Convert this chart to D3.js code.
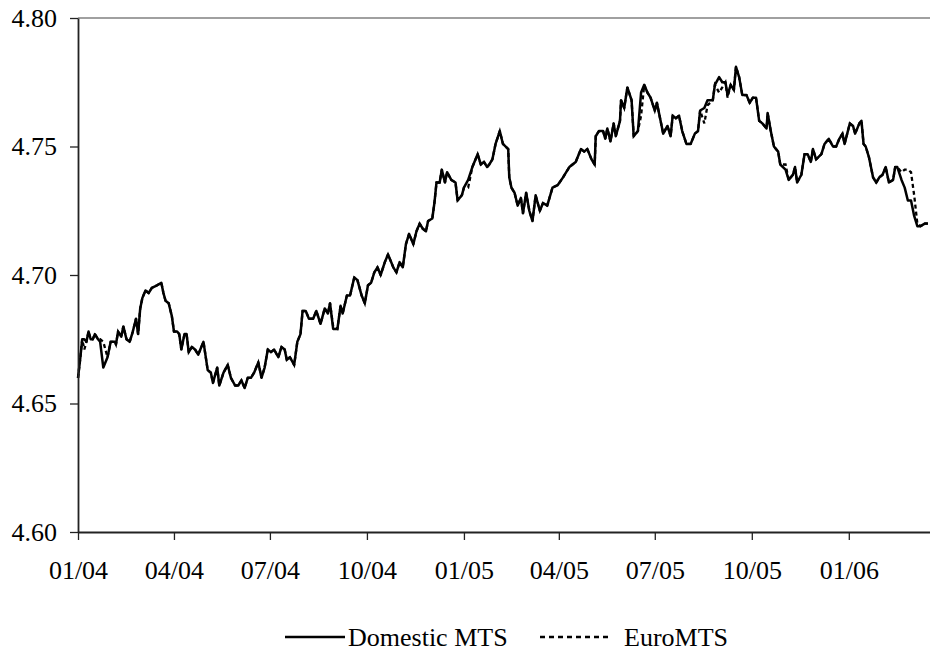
<!DOCTYPE html>
<html>
<head>
<meta charset="utf-8">
<script src="https://cdn.jsdelivr.net/npm/d3@7"></script>
<style>
  html, body { margin: 0; padding: 0; background: #fff; }
  svg { display: block; }
  text { font-family: "Liberation Serif", "Times New Roman", serif; }
</style>
</head>
<body>
<svg id="chart" width="930" height="655"></svg>
<script>
const dates = [
"2004-01-01","2004-01-03","2004-01-05","2004-01-07","2004-01-09","2004-01-11","2004-01-13","2004-01-15","2004-01-17","2004-01-20",
"2004-01-22","2004-01-25","2004-01-29","2004-02-01","2004-02-05","2004-02-06","2004-02-08","2004-02-11","2004-02-13","2004-02-16",
"2004-02-19","2004-02-22","2004-02-25","2004-02-27","2004-02-29","2004-03-02","2004-03-05","2004-03-08","2004-03-11","2004-03-16",
"2004-03-20","2004-03-22","2004-03-24","2004-03-27","2004-03-30","2004-04-01","2004-04-04","2004-04-06","2004-04-08","2004-04-11",
"2004-04-13","2004-04-15","2004-04-18","2004-04-21","2004-04-24","2004-04-26","2004-04-29","2004-05-03","2004-05-06","2004-05-08",
"2004-05-12","2004-05-14","2004-05-18","2004-05-22","2004-05-25","2004-05-29","2004-06-01","2004-06-04","2004-06-07","2004-06-10",
"2004-06-13","2004-06-16","2004-06-20","2004-06-23","2004-06-26","2004-06-29","2004-07-02","2004-07-05","2004-07-09","2004-07-12",
"2004-07-15","2004-07-17","2004-07-20","2004-07-24","2004-07-27","2004-07-30","2004-08-01","2004-08-04","2004-08-07","2004-08-11",
"2004-08-14","2004-08-18","2004-08-22","2004-08-25","2004-08-27","2004-08-30","2004-09-03","2004-09-06","2004-09-08","2004-09-12",
"2004-09-15","2004-09-19","2004-09-22","2004-09-26","2004-09-29","2004-10-02","2004-10-05","2004-10-08","2004-10-11","2004-10-14",
"2004-10-18","2004-10-21","2004-10-23","2004-10-26","2004-10-29","2004-11-01","2004-11-04","2004-11-07","2004-11-10","2004-11-14",
"2004-11-17","2004-11-20","2004-11-23","2004-11-26","2004-11-28","2004-12-02","2004-12-04","2004-12-06","2004-12-09","2004-12-11",
"2004-12-14","2004-12-16","2004-12-20","2004-12-24","2004-12-26","2004-12-30","2005-01-01","2005-01-05","2005-01-09","2005-01-14",
"2005-01-17","2005-01-20","2005-01-23","2005-01-25","2005-01-28","2005-01-31","2005-02-04","2005-02-07","2005-02-12","2005-02-13",
"2005-02-15","2005-02-18","2005-02-21","2005-02-24","2005-02-26","2005-03-01","2005-03-04","2005-03-07","2005-03-10","2005-03-14",
"2005-03-17","2005-03-21","2005-03-26","2005-03-31","2005-04-05","2005-04-08","2005-04-11","2005-04-14","2005-04-17","2005-04-22",
"2005-04-25","2005-04-28","2005-05-02","2005-05-05","2005-05-06","2005-05-09","2005-05-13","2005-05-15","2005-05-17","2005-05-20",
"2005-05-23","2005-05-25","2005-05-29","2005-05-30","2005-06-02","2005-06-05","2005-06-09","2005-06-11","2005-06-15","2005-06-18",
"2005-06-21","2005-06-24","2005-06-27","2005-07-01","2005-07-03","2005-07-06","2005-07-09","2005-07-13","2005-07-16","2005-07-18",
"2005-07-21","2005-07-24","2005-07-27","2005-07-31","2005-08-04","2005-08-08","2005-08-11","2005-08-13","2005-08-17","2005-08-20",
"2005-08-25","2005-08-27","2005-08-31","2005-09-03","2005-09-06","2005-09-08","2005-09-11","2005-09-14","2005-09-16","2005-09-19",
"2005-09-22","2005-09-26","2005-09-29","2005-10-02","2005-10-05","2005-10-08","2005-10-11","2005-10-15","2005-10-16","2005-10-19",
"2005-10-22","2005-10-26","2005-10-28","2005-11-02","2005-11-05","2005-11-09","2005-11-11","2005-11-13","2005-11-17","2005-11-20",
"2005-11-23","2005-11-26","2005-11-28","2005-12-01","2005-12-06","2005-12-09","2005-12-13","2005-12-17","2005-12-20","2005-12-23",
"2005-12-26","2005-12-28","2006-01-02","2006-01-05","2006-01-07","2006-01-11","2006-01-13","2006-01-15","2006-01-17","2006-01-20",
"2006-01-24","2006-01-27","2006-01-30","2006-02-02","2006-02-05","2006-02-08","2006-02-12","2006-02-14","2006-02-16","2006-02-20",
"2006-02-23","2006-02-26","2006-03-01","2006-03-04","2006-03-07","2006-03-10","2006-03-14","2006-03-17"
];

const domesticMTS = [
4.660,4.667,4.675,4.675,4.674,4.678,4.675,4.675,4.677,4.675,
4.674,4.664,4.668,4.674,4.674,4.673,4.678,4.676,4.680,4.675,
4.674,4.678,4.683,4.677,4.687,4.691,4.694,4.693,4.695,4.696,
4.697,4.693,4.690,4.689,4.684,4.678,4.678,4.677,4.671,4.677,
4.677,4.670,4.672,4.671,4.669,4.671,4.674,4.663,4.662,4.658,
4.664,4.657,4.662,4.665,4.660,4.657,4.657,4.659,4.656,4.660,
4.660,4.662,4.666,4.660,4.664,4.671,4.670,4.671,4.668,4.672,
4.671,4.667,4.668,4.665,4.674,4.677,4.686,4.686,4.683,4.683,
4.686,4.681,4.687,4.685,4.689,4.679,4.679,4.688,4.685,4.692,
4.692,4.699,4.698,4.692,4.689,4.696,4.697,4.701,4.703,4.700,
4.705,4.708,4.706,4.703,4.701,4.705,4.703,4.712,4.716,4.712,
4.717,4.720,4.718,4.717,4.721,4.722,4.728,4.736,4.736,4.741,
4.736,4.740,4.737,4.736,4.729,4.731,4.734,4.737,4.742,4.747,
4.743,4.744,4.742,4.743,4.745,4.751,4.756,4.751,4.749,4.738,
4.734,4.732,4.727,4.730,4.724,4.732,4.725,4.721,4.731,4.725,
4.728,4.727,4.734,4.735,4.738,4.740,4.742,4.743,4.744,4.749,
4.748,4.749,4.745,4.743,4.754,4.756,4.756,4.753,4.757,4.752,
4.759,4.754,4.760,4.768,4.765,4.773,4.768,4.754,4.756,4.771,
4.774,4.771,4.769,4.764,4.767,4.761,4.755,4.758,4.754,4.762,
4.761,4.762,4.756,4.751,4.751,4.755,4.756,4.764,4.765,4.768,
4.768,4.774,4.777,4.775,4.775,4.770,4.774,4.772,4.781,4.777,
4.770,4.770,4.767,4.769,4.769,4.760,4.759,4.757,4.763,4.756,
4.750,4.748,4.743,4.741,4.737,4.739,4.742,4.736,4.739,4.747,
4.747,4.744,4.749,4.745,4.747,4.751,4.753,4.750,4.750,4.753,
4.755,4.751,4.759,4.758,4.755,4.759,4.760,4.751,4.750,4.746,
4.738,4.736,4.738,4.739,4.742,4.736,4.737,4.742,4.742,4.737,
4.734,4.729,4.729,4.723,4.719,4.719,4.720,4.720
];

const euroMTS = [
4.660,4.667,4.675,4.671,4.674,4.678,4.675,4.675,4.677,4.675,
4.675,4.674,4.668,4.674,4.674,4.673,4.678,4.676,4.680,4.675,
4.674,4.678,4.683,4.677,4.687,4.691,4.694,4.693,4.695,4.696,
4.697,4.693,4.690,4.689,4.684,4.678,4.678,4.677,4.671,4.677,
4.677,4.670,4.672,4.671,4.669,4.671,4.674,4.663,4.662,4.658,
4.664,4.657,4.662,4.665,4.660,4.657,4.657,4.659,4.656,4.660,
4.660,4.662,4.666,4.660,4.664,4.671,4.670,4.671,4.668,4.672,
4.671,4.667,4.668,4.665,4.674,4.677,4.686,4.686,4.683,4.683,
4.686,4.681,4.687,4.685,4.689,4.680,4.679,4.688,4.685,4.692,
4.692,4.699,4.698,4.692,4.689,4.696,4.697,4.701,4.703,4.700,
4.705,4.708,4.706,4.703,4.701,4.705,4.703,4.712,4.716,4.712,
4.717,4.720,4.718,4.717,4.721,4.722,4.728,4.736,4.736,4.741,
4.736,4.740,4.737,4.736,4.729,4.731,4.734,4.734,4.742,4.747,
4.743,4.744,4.742,4.743,4.745,4.751,4.756,4.751,4.749,4.738,
4.734,4.732,4.727,4.730,4.724,4.732,4.725,4.721,4.731,4.725,
4.728,4.727,4.734,4.735,4.738,4.740,4.742,4.743,4.744,4.749,
4.748,4.749,4.745,4.743,4.754,4.756,4.756,4.753,4.757,4.752,
4.759,4.754,4.760,4.768,4.765,4.773,4.768,4.754,4.756,4.762,
4.774,4.771,4.769,4.764,4.767,4.761,4.755,4.758,4.754,4.762,
4.761,4.762,4.756,4.751,4.751,4.755,4.756,4.764,4.759,4.766,
4.768,4.774,4.771,4.773,4.775,4.769,4.774,4.772,4.781,4.777,
4.770,4.770,4.767,4.769,4.769,4.760,4.759,4.757,4.763,4.756,
4.750,4.748,4.743,4.743,4.737,4.739,4.742,4.736,4.739,4.747,
4.747,4.744,4.749,4.745,4.747,4.751,4.753,4.750,4.750,4.753,
4.755,4.751,4.759,4.758,4.755,4.759,4.760,4.751,4.750,4.746,
4.738,4.736,4.738,4.739,4.742,4.736,4.737,4.742,4.742,4.740,
4.741,4.741,4.740,4.731,4.720,4.719,4.720,4.720
];

const yTicks = [4.60, 4.65, 4.70, 4.75, 4.80];
const xTickDates = ["2004-01-01","2004-04-01","2004-07-01","2004-10-01","2005-01-01","2005-04-01","2005-07-01","2005-10-01","2006-01-01"];
const xTickLabels = ["01/04","04/04","07/04","10/04","01/05","04/05","07/05","10/05","01/06"];
const seriesNames = ["Domestic MTS", "EuroMTS"];

(function () {
const parse = d3.timeParse("%Y-%m-%d");
const svg = d3.select("#chart");
const FONT = 26;
const SERIF = '"Liberation Serif", "Times New Roman", serif';

const mLeft = 78, mRight = 930, mTop = 18, mBottom = 532;
const x = d3.scaleTime().domain([parse("2004-01-01"), parse("2006-03-19")]).range([mLeft, mRight]);
const y = d3.scaleLinear().domain([4.60, 4.80]).range([mBottom, mTop]);

// top border of plot area
svg.append("line").attr("x1", mLeft).attr("x2", mRight).attr("y1", mTop).attr("y2", mTop)
  .attr("stroke", "#808080").attr("stroke-width", 1.6);

const domData = dates.map((d, i) => ({ date: parse(d), v: domesticMTS[i] }));
const euroData = dates.map((d, i) => ({ date: parse(d), v: euroMTS[i] }));
const line = d3.line().x(d => x(d.date)).y(d => y(d.v));

svg.append("path").datum(euroData).attr("d", line)
  .attr("fill", "none").attr("stroke", "#000").attr("stroke-width", 2.3)
  .attr("stroke-dasharray", "4,3");
svg.append("path").datum(domData).attr("d", line)
  .attr("fill", "none").attr("stroke", "#000").attr("stroke-width", 2.5)
  .attr("stroke-linejoin", "round");

// axes
const yAxis = d3.axisLeft(y).tickValues(yTicks).tickFormat(d3.format(".2f"))
  .tickSize(8).tickSizeOuter(0).tickPadding(13);
const gy = svg.append("g").attr("transform", `translate(${mLeft},0)`).call(yAxis);
gy.select(".domain").attr("stroke", "#222").attr("stroke-width", 1.8);
gy.selectAll(".tick line").attr("stroke", "#222").attr("stroke-width", 1.3);
gy.selectAll(".tick text").attr("font-size", FONT).attr("fill", "#000").attr("font-family", SERIF);

const tickDateObjs = xTickDates.map(parse);
const xAxis = d3.axisBottom(x).tickValues(tickDateObjs)
  .tickFormat((d, i) => xTickLabels[i]).tickSize(8).tickSizeOuter(0).tickPadding(21);
const gx = svg.append("g").attr("transform", `translate(0,${mBottom})`).call(xAxis);
gx.select(".domain").attr("stroke", "#222").attr("stroke-width", 1.8);
gx.selectAll(".tick line").attr("stroke", "#222").attr("stroke-width", 1.3);
gx.selectAll(".tick text").attr("font-size", FONT).attr("fill", "#000").attr("font-family", SERIF);

// legend
const ly = 637;
const lg = svg.append("g");
lg.append("line").attr("x1", 285).attr("x2", 345).attr("y1", ly).attr("y2", ly)
  .attr("stroke", "#000").attr("stroke-width", 2.4);
lg.append("text").attr("x", 348).attr("y", ly + 8.5).attr("font-size", FONT).attr("font-family", SERIF).text(seriesNames[0]);
lg.append("line").attr("x1", 540).attr("x2", 608).attr("y1", ly).attr("y2", ly)
  .attr("stroke", "#000").attr("stroke-width", 2.3).attr("stroke-dasharray", "5,4");
lg.append("text").attr("x", 624).attr("y", ly + 8.5).attr("font-size", FONT).attr("font-family", SERIF).text(seriesNames[1]);
})();
</script>
</body>
</html>
